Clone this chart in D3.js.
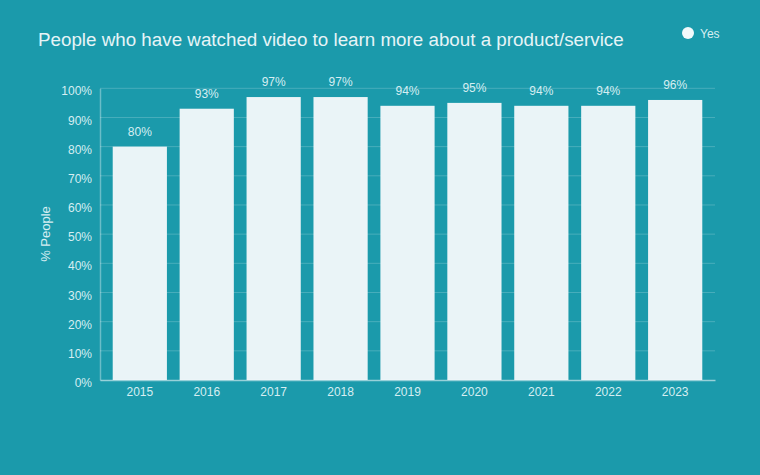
<!DOCTYPE html>
<html><head><meta charset="utf-8">
<script src="https://cdn.jsdelivr.net/npm/d3@7"></script>
<style>
html,body{margin:0;padding:0;background:#1b9aab;}
svg{display:block;font-family:"Liberation Sans",Arial,sans-serif;}
</style></head>
<body><svg id="c" width="760" height="475"></svg>
<script>
const years = ["2015","2016","2017","2018","2019","2020","2021","2022","2023"];
const yesValues = [80,93,97,97,94,95,94,94,96];
const yTicks = [0,10,20,30,40,50,60,70,80,90,100];
const title = "People who have watched video to learn more about a product/service";
const legendLabel = "Yes";
const yLabel = "% People";

const svg = d3.select("#c");
const bg = "#1b9aab", barCol = "#eaf4f7", txt = "#d6eef2", grid = "rgba(255,255,255,0.2)";
svg.append("rect").attr("width",760).attr("height",475).attr("fill",bg);

const x = d3.scaleBand().domain(years).range([100,715]).paddingInner(0.19).paddingOuter(0.19);
const y = d3.scaleLinear().domain([0,100]).range([380,88.3]);

// gridlines
svg.append("g").selectAll("line").data(yTicks.filter(d=>d>0)).join("line")
  .attr("x1",100).attr("x2",715).attr("y1",d=>y(d)).attr("y2",d=>y(d))
  .attr("stroke",grid).attr("stroke-width",1);

// bars
svg.append("g").selectAll("rect").data(years).join("rect")
  .attr("x",d=>x(d)).attr("width",x.bandwidth())
  .attr("y",(d,i)=>y(yesValues[i])).attr("height",(d,i)=>y(0)-y(yesValues[i]))
  .attr("fill",barCol);

// value labels
svg.append("g").selectAll("text").data(years).join("text")
  .attr("x",d=>x(d)+x.bandwidth()/2).attr("y",(d,i)=>y(yesValues[i])-11)
  .attr("text-anchor","middle").attr("fill",txt).attr("font-size",12)
  .text((d,i)=>yesValues[i]+"%");

// y axis
const ya = svg.append("g").attr("transform","translate(100,0)")
  .call(d3.axisLeft(y).tickValues(yTicks).tickFormat(d=>d+"%").tickSize(0).tickPadding(8));
ya.select(".domain").attr("stroke","rgba(255,255,255,0.35)").attr("stroke-width",1.5);
ya.selectAll("text").attr("fill",txt).attr("font-size",12).attr("dy","0.55em").attr("font-family","Liberation Sans, Arial, sans-serif");

// x axis
const xa = svg.append("g").attr("transform","translate(0,380)")
  .call(d3.axisBottom(x).tickSize(0).tickPadding(7));
xa.select(".domain").attr("stroke","rgba(255,255,255,0.55)").attr("stroke-width",1.5);
xa.selectAll("text").attr("fill",txt).attr("font-size",12).attr("font-family","Liberation Sans, Arial, sans-serif");

// y label
svg.append("text").attr("transform","translate(50,234) rotate(-90)")
  .attr("text-anchor","middle").attr("fill",txt).attr("font-size",13).text(yLabel);

// title
svg.append("text").attr("x",38).attr("y",45.5).attr("fill","#e6f4f7").attr("font-size",18.8).text(title);

// legend
svg.append("circle").attr("cx",688).attr("cy",33).attr("r",6).attr("fill","#f2f9fb");
svg.append("text").attr("x",700).attr("y",37.5).attr("fill",txt).attr("font-size",12).text(legendLabel);
</script></body></html>
